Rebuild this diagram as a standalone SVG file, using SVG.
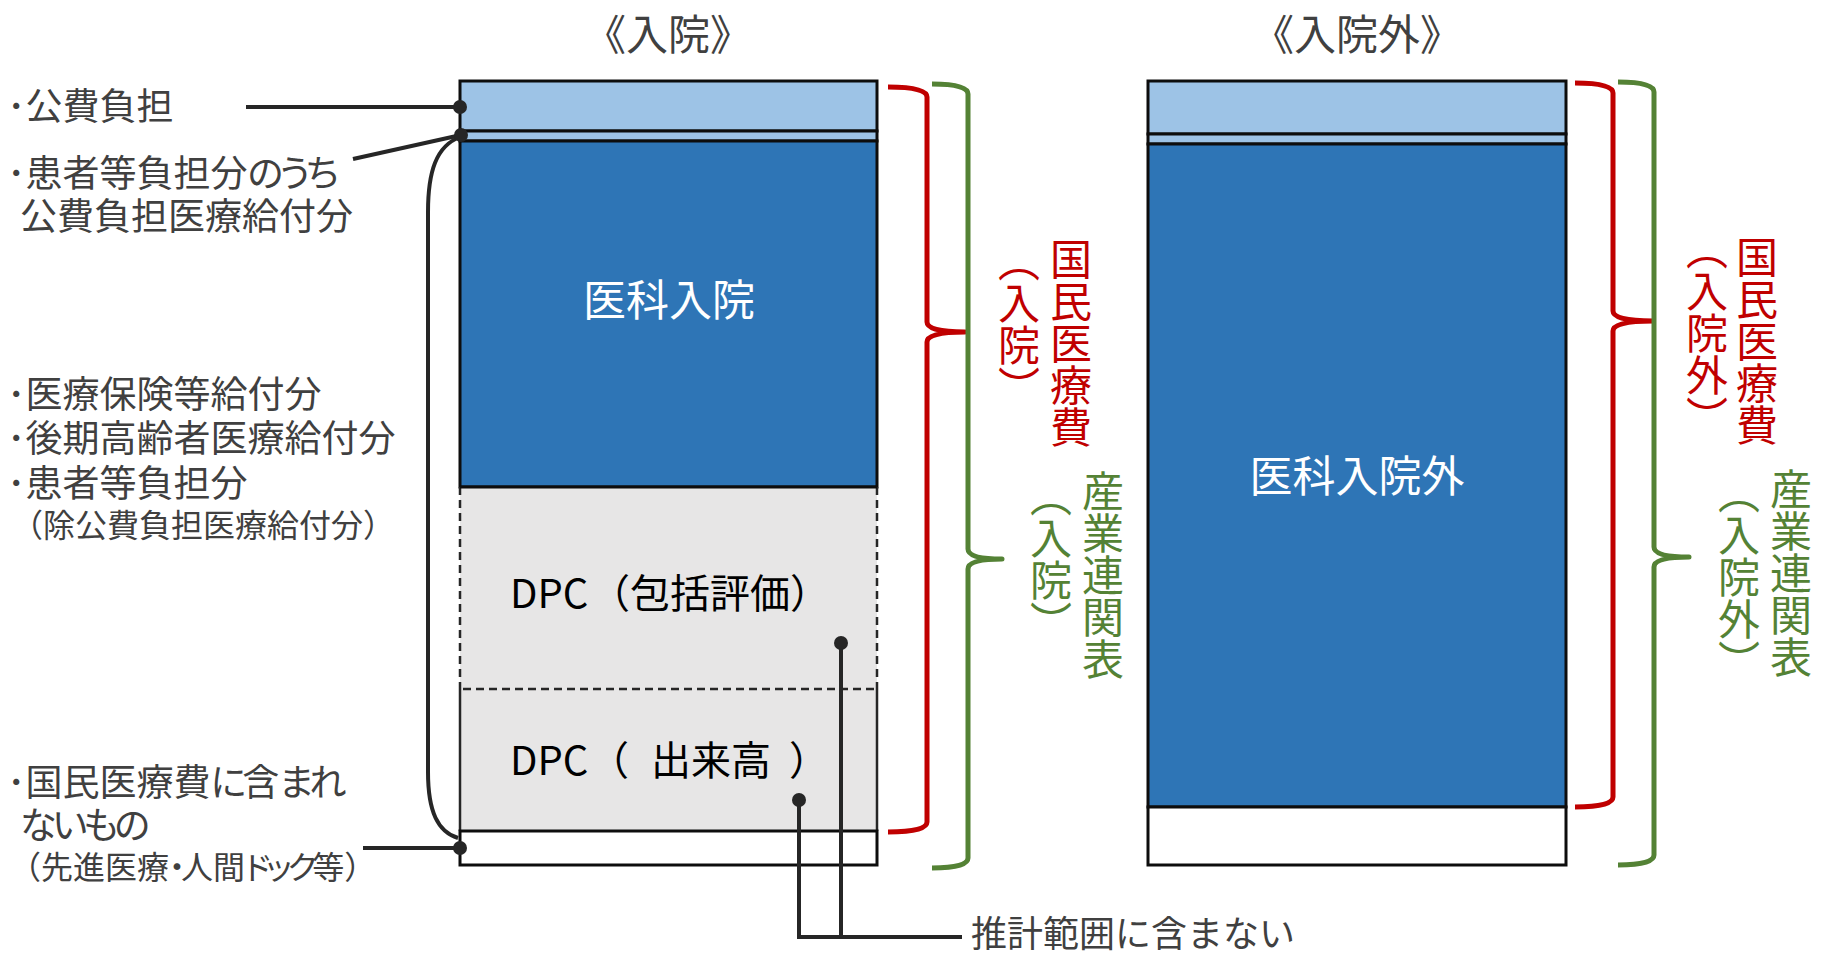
<svg xmlns="http://www.w3.org/2000/svg" width="1824" height="957" viewBox="0 0 1824 957">
<style>
text { font-family: "Noto Sans CJK JP", "Noto Sans", sans-serif; }
.lbl { font-size: 37px; fill: #404040; }
.kp { font-feature-settings: "palt"; letter-spacing: -4px; }
.sm { font-size: 32px; }
.ttl { font-size: 42px; fill: #404040; text-anchor: middle; }
.in { font-size: 43px; fill: #FFFFFF; text-anchor: middle; }
.dpc { font-size: 40px; fill: #000000; }
.vr { font-size: 42px; fill: #C00000; writing-mode: vertical-rl; }
.vg { font-size: 42px; fill: #548235; writing-mode: vertical-rl; }
.box { stroke: #0D0D0D; stroke-width: 3; }
.lt { fill: #9DC3E6; }
.dk { fill: #2E75B6; }
.wh { fill: #FFFFFF; }
.dash { stroke: #262626; stroke-width: 2.5; stroke-dasharray: 8 5; fill: none; }
.solid { stroke: #262626; stroke-width: 2.5; fill: none; }
.con { stroke: #262626; stroke-width: 4; fill: none; }
.dot { fill: #262626; }
.bred { stroke: #C00000; stroke-width: 5; fill: none; stroke-linejoin: round; }
.bgrn { stroke: #548235; stroke-width: 5; fill: none; stroke-linejoin: round; }
</style>

<g id="title-inpatient"><text class="ttl" x="668" y="50">《入院》</text></g>
<g id="title-outpatient"><text class="ttl" x="1357" y="50">《入院外》</text></g>

<g id="col-inpatient">
  <rect class="box lt" x="460" y="81" width="417" height="50"/>
  <rect class="box lt" x="460" y="131" width="417" height="10"/>
  <rect class="box dk" x="460" y="141" width="417" height="346"/>
  <rect x="460" y="487" width="417" height="344" fill="#E7E6E6"/>
  <path class="dash" d="M460,487 V689 M877,487 V689 M463,689 H874"/>
  <path class="solid" d="M460,689 V831 M877,689 V831"/>
  <rect class="box wh" x="460" y="831" width="417" height="34"/>
  <line x1="460" y1="487" x2="877" y2="487" stroke="#0D0D0D" stroke-width="3"/>
  <text class="in" x="669" y="316">医科入院</text>
  <text class="dpc" x="510" y="608">DPC<tspan x="590">（包括評価）</tspan></text>
  <text class="dpc" x="510" y="775">DPC<tspan x="589">（</tspan><tspan x="651">出来高</tspan><tspan x="789">）</tspan></text>
</g>

<g id="col-outpatient">
  <rect class="box lt" x="1148" y="81" width="418" height="53"/>
  <rect class="box lt" x="1148" y="134" width="418" height="10"/>
  <rect class="box dk" x="1148" y="144" width="418" height="663"/>
  <rect class="box wh" x="1148" y="807" width="418" height="58"/>
  <text class="in" x="1357" y="492">医科入院外</text>
</g>

<g id="brace-nme-in">
  <path class="bred" d="M888,87 Q927,87 927,97 L927,322 Q927,332 965,332 Q927,332 927,342 L927,822 Q927,832 888,832"/>
  <text class="vr" x="1071" y="238">国民医療費</text>
  <text class="vr" x="1019" y="240">（入院）</text>
</g>
<g id="brace-io-in">
  <path class="bgrn" d="M932,84 Q968,84 968,94 L968,549 Q968,559 1002,559 Q968,559 968,569 L968,858 Q968,868 932,868"/>
  <text class="vg" x="1103" y="470">産業連関表</text>
  <text class="vg" x="1051" y="475">（入院）</text>
</g>
<g id="brace-nme-out">
  <path class="bred" d="M1575,83 Q1613,83 1613,93 L1613,311 Q1613,321 1653,321 Q1613,321 1613,331 L1613,797 Q1613,807 1575,807"/>
  <text class="vr" x="1757" y="236">国民医療費</text>
  <text class="vr" x="1707" y="228">（入院外）</text>
</g>
<g id="brace-io-out">
  <path class="bgrn" d="M1618,82 Q1654,82 1654,92 L1654,547 Q1654,557 1689,557 Q1654,557 1654,567 L1654,855 Q1654,865 1618,865"/>
  <text class="vg" x="1791" y="468">産業連関表</text>
  <text class="vg" x="1739" y="472">（入院外）</text>
</g>

<g id="label-public">
  <text class="lbl" x="7" y="120">･公費負担</text>
</g>
<g id="label-patient-public">
  <text class="lbl"><tspan x="7" y="187">･患者等負担分<tspan class="kp">のうち</tspan></tspan><tspan x="20" y="230">公費負担医療給付分</tspan></text>
</g>
<g id="label-insurance">
  <text class="lbl"><tspan x="7" y="408">･医療保険等給付分</tspan><tspan x="7" y="452">･後期高齢者医療給付分</tspan><tspan x="7" y="497">･患者等負担分</tspan><tspan class="sm" x="11" y="537">（除公費負担医療給付分）</tspan></text>
</g>
<g id="label-excluded">
  <text class="lbl"><tspan x="7" y="796">･国民医療費<tspan class="kp">に</tspan>含<tspan class="kp">まれ</tspan></tspan><tspan class="kp" x="20" y="839">ないもの</tspan><tspan class="sm" x="9" y="879">（先進医療<tspan class="kp">・</tspan>人間<tspan class="kp">ドック</tspan>等）</tspan></text>
</g>
<g id="label-not-estimated">
  <text class="lbl" x="971" y="947" style="font-size:36px">推計範囲に含まない</text>
</g>

<g id="connectors">
  <line class="con" x1="246" y1="107" x2="460" y2="107"/>
  <line class="con" x1="353" y1="159" x2="461" y2="135"/>
  <path class="con" d="M460,137 C436,146 428,172 428,212 L428,772 C428,812 438,832 458,838"/>
  <line class="con" x1="363" y1="848" x2="460" y2="848"/>
  <path class="con" d="M841,643 V937 H962 M799,800 V937 H841"/>
  <circle class="dot" cx="460" cy="107" r="7"/>
  <circle class="dot" cx="461" cy="135" r="7"/>
  <circle class="dot" cx="460" cy="848" r="7"/>
  <circle class="dot" cx="841" cy="643" r="7"/>
  <circle class="dot" cx="799" cy="800" r="7"/>
</g>
</svg>
